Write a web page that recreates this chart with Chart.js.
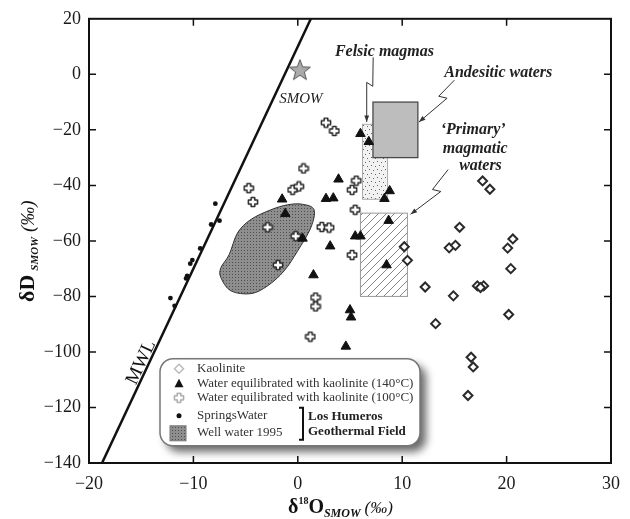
<!DOCTYPE html>
<html>
<head>
<meta charset="utf-8">
<script src="https://cdn.jsdelivr.net/npm/chart.js@4.4.1/dist/chart.umd.min.js"></script>
<style>
  html, body { margin: 0; padding: 0; background: #fff; }
</style>
</head>
<body>
<canvas id="chart" width="630" height="519"></canvas>
<script>
// axis ticks
const xTicks = [-20, -10, 0, 10, 20, 30];
const yTicks = [20, 0, -20, -40, -60, -80, -100, -120, -140];

// δ18O, δD pairs
const kaolinite = [
  [17.7, -38.4], [18.4, -41.4], [15.5, -55.1], [14.5, -62.5], [15.1, -61.6],
  [20.6, -59.3], [20.1, -62.6], [20.4, -70.0], [12.2, -76.6], [17.2, -76.2],
  [17.8, -76.2], [17.5, -76.8], [14.9, -79.8], [20.2, -86.5], [13.2, -89.8],
  [16.6, -101.9], [16.8, -105.4], [16.3, -115.7], [10.5, -67.0], [10.2, -62.1]
];
const water140 = [
  [-1.5, -45.0], [-1.2, -50.2], [0.45, -59.1], [1.5, -72.3], [6.0, -21.4],
  [6.8, -24.3], [3.9, -37.8], [2.7, -44.8], [3.4, -44.6], [8.8, -42.0],
  [8.3, -44.8], [8.7, -52.7], [5.5, -58.3], [6.0, -58.3], [3.1, -61.9],
  [8.5, -68.7], [5.0, -84.9], [5.1, -87.5], [4.6, -98.0]
];
const water100 = [
  [0.55, -33.9], [-4.7, -41.0], [-4.3, -46.0], [-0.5, -41.6], [0.1, -40.4],
  [-2.9, -55.1], [-0.2, -58.3], [-1.9, -68.7], [1.7, -80.4], [1.7, -83.6],
  [2.3, -55.0], [3.0, -55.2], [2.7, -17.4], [3.5, -20.4], [5.6, -38.3],
  [5.2, -41.6], [5.5, -48.8], [5.2, -65.1], [1.2, -94.5]
];
const springsWater = [
  [-7.9, -46.6], [-7.5, -52.7], [-8.3, -54.1], [-9.35, -62.7], [-10.1, -66.9],
  [-10.3, -68.2], [-10.6, -72.6], [-10.7, -73.5], [-12.2, -80.6], [-11.8, -83.4]
];
const smow = [[0.2, 1.5]];
const mwl = [[-18.75, -140], [1.25, 20]]; // δD = 8 δ18O + 10

// outline of the 1995 well water field
const wellWater1995 = [
  [0.45, -46.8], [1.56, -48.8], [1.24, -55.3], [-0.03, -63.7], [-1.31, -70.8],
  [-2.9, -76.2], [-4.5, -79.0], [-6.41, -78.0], [-7.37, -73.2], [-7.37, -69.7],
  [-6.57, -64.9], [-5.77, -57.1], [-4.5, -52.3], [-2.58, -48.8], [-0.99, -47.0]
];
// boxes: [x1, x2, yTop, yBottom]
const felsicMagmas = [6.2, 8.6, -18, -45];
const andesiticWaters = [7.2, 11.5, -10, -30];
const primaryMagmatic = [6.0, 10.5, -50, -80];

const SERIF = '"Liberation Serif", "Times New Roman", serif';
const pts = arr => arr.map(([x, y]) => ({ x, y }));
const fmt = v => (v < 0 ? '\u2212' + Math.abs(v) : String(v));

function makeCanvas(w, h, draw) {
  const c = document.createElement('canvas');
  c.width = w; c.height = h;
  draw(c.getContext('2d'));
  return c;
}

function crossIcon(stroke) {
  return makeCanvas(12, 12, g => {
    const a = 2, b = 1.8, cx = 6, cy = 6, r = 4.6;
    g.beginPath();
    g.moveTo(cx - b, cy - r); g.lineTo(cx + b, cy - r); g.lineTo(cx + b, cy - a);
    g.lineTo(cx + r, cy - a); g.lineTo(cx + r, cy + a); g.lineTo(cx + b, cy + a);
    g.lineTo(cx + b, cy + r); g.lineTo(cx - b, cy + r); g.lineTo(cx - b, cy + a);
    g.lineTo(cx - r, cy + a); g.lineTo(cx - r, cy - a); g.lineTo(cx - b, cy - a);
    g.closePath();
    g.fillStyle = '#fff'; g.fill();
    g.lineJoin = 'round'; g.lineWidth = 1.5; g.strokeStyle = stroke; g.stroke();
  });
}

function starIcon() {
  return makeCanvas(24, 24, g => {
    g.beginPath();
    for (let i = 0; i < 10; i++) {
      const r = i % 2 ? 4.6 : 11;
      const a = -Math.PI / 2 + i * Math.PI / 5;
      g.lineTo(12 + r * Math.cos(a), 12.5 + r * Math.sin(a));
    }
    g.closePath();
    g.fillStyle = '#ababab'; g.fill();
    g.lineWidth = 1; g.strokeStyle = '#555'; g.stroke();
  });
}

const crossDark = crossIcon('#2a2a2a');
const crossLight = crossIcon('#aaa');
const star = starIcon();

function patterns(ctx) {
  const dots = makeCanvas(3, 3, g => {
    g.fillStyle = '#8e8e8e'; g.fillRect(0, 0, 3, 3);
    g.fillStyle = '#4e4e4e'; g.fillRect(1, 1, 1, 1);
  });
  const stipple = makeCanvas(8, 8, g => {
    g.fillStyle = '#f2f2f2'; g.fillRect(0, 0, 8, 8);
    g.fillStyle = '#666';
    [[1, 1], [5, 2], [3, 5], [7, 6]].forEach(([x, y]) => g.fillRect(x, y, 1, 1));
  });
  const hatch = makeCanvas(8, 8, g => {
    g.fillStyle = '#fff'; g.fillRect(0, 0, 8, 8);
    g.strokeStyle = '#888'; g.lineWidth = 1;
    g.beginPath();
    g.moveTo(0, 8); g.lineTo(8, 0);
    g.moveTo(-1, 1); g.lineTo(1, -1);
    g.moveTo(7, 9); g.lineTo(9, 7);
    g.stroke();
  });
  return {
    dots: ctx.createPattern(dots, 'repeat'),
    stipple: ctx.createPattern(stipple, 'repeat'),
    hatch: ctx.createPattern(hatch, 'repeat')
  };
}

function drawRuns(ctx, runs, x, y) {
  for (const r of runs) {
    ctx.font = r.font;
    ctx.fillText(r.text, x, y + (r.dy || 0));
    x += ctx.measureText(r.text).width + (r.gap || 0);
  }
}

function arrow(ctx, sx, sy, path) {
  const p = path.map(([x, y]) => [sx.getPixelForValue(x), sy.getPixelForValue(y)]);
  ctx.beginPath();
  p.forEach(([x, y], i) => (i ? ctx.lineTo(x, y) : ctx.moveTo(x, y)));
  ctx.stroke();
  const [x1, y1] = p[p.length - 2];
  const [x2, y2] = p[p.length - 1];
  const a = Math.atan2(y2 - y1, x2 - x1);
  ctx.beginPath();
  ctx.moveTo(x2, y2);
  ctx.lineTo(x2 - 7 * Math.cos(a - 0.35), y2 - 7 * Math.sin(a - 0.35));
  ctx.lineTo(x2 - 7 * Math.cos(a + 0.35), y2 - 7 * Math.sin(a + 0.35));
  ctx.closePath();
  ctx.fill();
}

const decor = {
  id: 'decor',
  beforeDatasetsDraw(chart) {
    const { ctx, scales: { x, y } } = chart;
    const pat = patterns(ctx);
    const box = (b, fill, stroke, lw) => {
      const l = x.getPixelForValue(b[0]), r = x.getPixelForValue(b[1]);
      const t = y.getPixelForValue(b[2]), btm = y.getPixelForValue(b[3]);
      ctx.fillStyle = fill;
      ctx.fillRect(l, t, r - l, btm - t);
      ctx.lineWidth = lw; ctx.strokeStyle = stroke;
      ctx.strokeRect(l, t, r - l, btm - t);
    };
    ctx.save();
    box(felsicMagmas, pat.stipple, '#aaa', 1);
    box(primaryMagmatic, pat.hatch, '#999', 1);
    box(andesiticWaters, '#bdbdbd', '#4a4a4a', 1.3);

    // smooth closed outline of the well water field
    const p = wellWater1995.map(([a, b]) => [x.getPixelForValue(a), y.getPixelForValue(b)]);
    const n = p.length;
    ctx.beginPath();
    ctx.moveTo(p[0][0], p[0][1]);
    for (let i = 0; i < n; i++) {
      const p0 = p[(i - 1 + n) % n], p1 = p[i], p2 = p[(i + 1) % n], p3 = p[(i + 2) % n];
      ctx.bezierCurveTo(
        p1[0] + (p2[0] - p0[0]) / 6, p1[1] + (p2[1] - p0[1]) / 6,
        p2[0] - (p3[0] - p1[0]) / 6, p2[1] - (p3[1] - p1[1]) / 6,
        p2[0], p2[1]);
    }
    ctx.closePath();
    ctx.fillStyle = pat.dots; ctx.fill();
    ctx.lineWidth = 1; ctx.strokeStyle = '#333'; ctx.stroke();
    ctx.restore();
  },
  afterDatasetsDraw(chart) {
    const { ctx, chartArea: ca, scales: { x, y } } = chart;
    const pat = patterns(ctx);
    ctx.save();

    // frame and inward ticks on all four sides
    ctx.strokeStyle = '#111'; ctx.lineWidth = 2;
    ctx.strokeRect(ca.left, ca.top, ca.right - ca.left, ca.bottom - ca.top);
    ctx.lineWidth = 1.5;
    ctx.beginPath();
    xTicks.slice(1, -1).forEach(v => {
      const px = x.getPixelForValue(v);
      ctx.moveTo(px, ca.bottom); ctx.lineTo(px, ca.bottom - 7);
      ctx.moveTo(px, ca.top); ctx.lineTo(px, ca.top + 7);
    });
    yTicks.slice(1, -1).forEach(v => {
      const py = y.getPixelForValue(v);
      ctx.moveTo(ca.left, py); ctx.lineTo(ca.left + 7, py);
      ctx.moveTo(ca.right, py); ctx.lineTo(ca.right - 7, py);
    });
    ctx.stroke();

    // annotations
    ctx.fillStyle = '#222';
    ctx.textAlign = 'center'; ctx.textBaseline = 'middle';
    ctx.font = 'italic 15px ' + SERIF;
    ctx.fillText('SMOW', x.getPixelForValue(0.3), y.getPixelForValue(-8.9));
    ctx.font = 'italic bold 16px ' + SERIF;
    ctx.fillText('Felsic magmas', x.getPixelForValue(8.3), y.getPixelForValue(8.2));
    ctx.fillText('Andesitic waters', x.getPixelForValue(19.2), y.getPixelForValue(0.7));
    ctx.fillText('\u2018Primary\u2019', x.getPixelForValue(16.8), y.getPixelForValue(-20));
    ctx.fillText('magmatic', x.getPixelForValue(17.0), y.getPixelForValue(-26.8));
    ctx.fillText('waters', x.getPixelForValue(17.5), y.getPixelForValue(-32.9));

    ctx.strokeStyle = '#333'; ctx.fillStyle = '#333'; ctx.lineWidth = 1;
    arrow(ctx, x, y, [[7.22, 6.1], [7.18, -4.3], [6.6, -2.9], [6.6, -17.2]]);
    arrow(ctx, x, y, [[15.0, -2.1], [13.5, -7.9], [14.3, -8.6], [11.6, -17.2]]);
    arrow(ctx, x, y, [[14.4, -34.3], [12.9, -41.5], [13.7, -42.2], [10.8, -50.4]]);

    // MWL label along the line
    const ax = x.getPixelForValue(mwl[0][0]), ay = y.getPixelForValue(mwl[0][1]);
    const bx = x.getPixelForValue(mwl[1][0]), by = y.getPixelForValue(mwl[1][1]);
    ctx.save();
    ctx.translate(x.getPixelForValue(-15.0), y.getPixelForValue(-103.8));
    ctx.rotate(Math.atan2(by - ay, bx - ax));
    ctx.fillStyle = '#111';
    ctx.font = '19px ' + SERIF;
    ctx.fillText('MWL', 0, 0);
    ctx.restore();

    // legend box
    const L = ca.left + 71, T = ca.top + 340, W = 260, H = 87, R = 13;
    ctx.save();
    ctx.beginPath();
    ctx.roundRect(L, T, W, H, R);
    ctx.shadowColor = 'rgba(0,0,0,0.6)';
    ctx.shadowBlur = 9; ctx.shadowOffsetX = 6; ctx.shadowOffsetY = 6;
    ctx.fillStyle = '#fff'; ctx.fill();
    ctx.restore();
    ctx.beginPath();
    ctx.roundRect(L, T, W, H, R);
    ctx.lineWidth = 1.5; ctx.strokeStyle = '#777'; ctx.stroke();

    const sx = L + 19, tx = L + 37;
    const rows = [T + 10, T + 25, T + 39, T + 57, T + 74];
    // kaolinite diamond
    ctx.beginPath();
    ctx.moveTo(sx, rows[0] - 4.5); ctx.lineTo(sx + 4.5, rows[0]);
    ctx.lineTo(sx, rows[0] + 4.5); ctx.lineTo(sx - 4.5, rows[0]); ctx.closePath();
    ctx.lineWidth = 1.5; ctx.strokeStyle = '#bbb'; ctx.stroke();
    // triangle
    ctx.beginPath();
    ctx.moveTo(sx, rows[1] - 5); ctx.lineTo(sx + 4.5, rows[1] + 3.5); ctx.lineTo(sx - 4.5, rows[1] + 3.5);
    ctx.closePath(); ctx.fillStyle = '#111'; ctx.fill();
    ctx.drawImage(crossLight, sx - 6, rows[2] - 6);
    ctx.beginPath(); ctx.arc(sx, rows[3], 2.5, 0, Math.PI * 2); ctx.fill();
    ctx.fillStyle = pat.dots; ctx.fillRect(sx - 9, rows[4] - 7, 16, 15);
    ctx.lineWidth = 1; ctx.strokeStyle = '#777'; ctx.strokeRect(sx - 9, rows[4] - 7, 16, 15);

    ctx.fillStyle = '#333'; ctx.textAlign = 'left'; ctx.font = '13px ' + SERIF;
    ctx.fillText('Kaolinite', tx, rows[0]);
    ctx.fillText('Water equilibrated with kaolinite (140\u00b0C)', tx, rows[1]);
    ctx.fillText('Water equilibrated with kaolinite (100\u00b0C)', tx, rows[2]);
    ctx.fillText('SpringsWater', tx, rows[3]);
    ctx.fillText('Well water 1995', tx, rows[4]);

    // bracket + group label
    ctx.strokeStyle = '#111'; ctx.lineWidth = 2;
    ctx.beginPath();
    ctx.moveTo(L + 139, rows[3] - 8); ctx.lineTo(L + 143, rows[3] - 8);
    ctx.lineTo(L + 143, rows[4] + 7); ctx.lineTo(L + 139, rows[4] + 7);
    ctx.stroke();
    ctx.fillStyle = '#222'; ctx.font = 'bold 13px ' + SERIF;
    ctx.fillText('Los Humeros', L + 148, rows[3] + 1);
    ctx.fillText('Geothermal Field', L + 148, rows[3] + 16);

    // axis titles
    ctx.fillStyle = '#111'; ctx.textAlign = 'left'; ctx.textBaseline = 'alphabetic';
    drawRuns(ctx, [
      { text: '\u03b4', font: 'bold 20px ' + SERIF },
      { text: '18', font: 'bold 10px ' + SERIF, dy: -9 },
      { text: 'O', font: 'bold 20px ' + SERIF },
      { text: 'SMOW', font: 'italic bold 12px ' + SERIF, dy: 4, gap: 4 },
      { text: '(\u2030)', font: 'italic 17px ' + SERIF }
    ], 288, 513);

    ctx.save();
    ctx.translate(34, 302);
    ctx.rotate(-Math.PI / 2);
    drawRuns(ctx, [
      { text: '\u03b4D', font: 'bold 22px ' + SERIF, gap: 4 },
      { text: 'SMOW', font: 'italic bold 11px ' + SERIF, dy: 4, gap: 5 },
      { text: '(\u2030)', font: 'italic 19px ' + SERIF }
    ], 0, 0);
    ctx.restore();

    ctx.restore();
  }
};

const tickFont = { family: SERIF, size: 18 };

new Chart(document.getElementById('chart'), {
  type: 'scatter',
  data: {
    datasets: [
      { label: 'SMOW', data: pts(smow), pointStyle: star, pointRadius: 11 },
      { label: 'Water equilibrated with kaolinite (140°C)', data: pts(water140), pointStyle: 'triangle',
        pointRadius: 5.5, backgroundColor: '#111', borderColor: '#111', borderWidth: 1 },
      { label: 'Kaolinite', data: pts(kaolinite), pointStyle: 'rectRot', pointRadius: 4.5,
        backgroundColor: '#fff', borderColor: '#2a2a2a', borderWidth: 2 },
      { label: 'Water equilibrated with kaolinite (100°C)', data: pts(water100), pointStyle: crossDark, pointRadius: 6 },
      { label: 'SpringsWater', data: pts(springsWater), pointStyle: 'circle', pointRadius: 2.4,
        backgroundColor: '#111', borderColor: '#111', borderWidth: 0 },
      { label: 'MWL', data: pts(mwl), showLine: true, pointRadius: 0, borderColor: '#111', borderWidth: 2.5 }
    ]
  },
  options: {
    responsive: false,
    animation: false,
    layout: { padding: { top: 16, right: 18, left: 0, bottom: 0 } },
    plugins: { legend: { display: false }, tooltip: { enabled: false } },
    scales: {
      x: {
        type: 'linear', min: -20, max: 30,
        afterBuildTicks: s => { s.ticks = xTicks.map(v => ({ value: v })); },
        afterFit: s => { s.height = 56; },
        grid: { display: false, drawTicks: false },
        border: { display: false },
        ticks: { font: tickFont, color: '#1a1a1a', padding: 10, maxRotation: 0, autoSkip: false, callback: fmt }
      },
      y: {
        type: 'linear', min: -140, max: 20,
        afterBuildTicks: s => { s.ticks = yTicks.map(v => ({ value: v })); },
        afterFit: s => { s.width = 89; },
        grid: { display: false, drawTicks: false },
        border: { display: false },
        ticks: { font: tickFont, color: '#1a1a1a', padding: 8, autoSkip: false, callback: fmt }
      }
    }
  },
  plugins: [decor]
});
</script>
</body>
</html>
